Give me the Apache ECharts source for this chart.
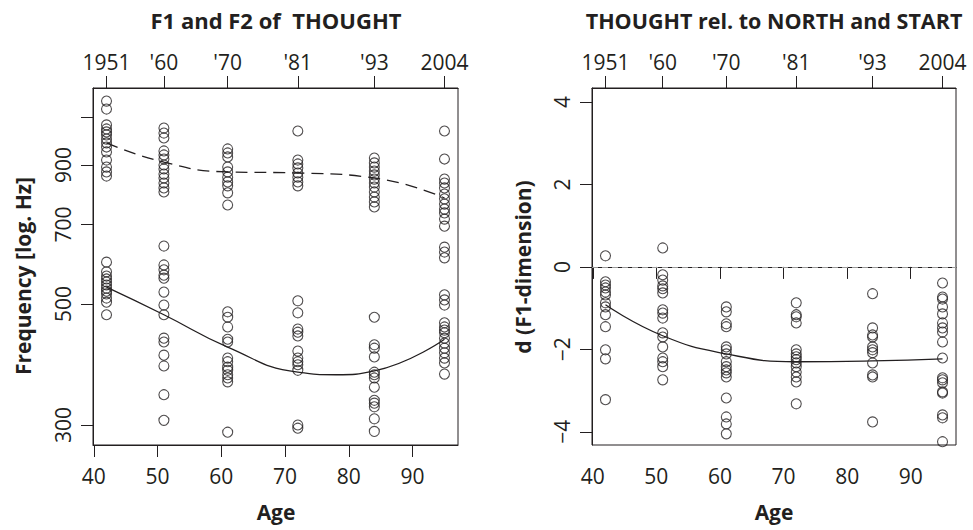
<!DOCTYPE html>
<html><head><meta charset="utf-8">
<script src="https://cdn.jsdelivr.net/npm/echarts@6/dist/echarts.min.js"></script>
<style>html,body{margin:0;padding:0;background:#fff}#c{width:973px;height:530px}</style>
</head><body><div id="c"></div>
<script>
const ages = [42, 51, 61, 72, 84, 95];
const yearLabels = ['1951', "'60", "'70", "'81", "'93", '2004'];
const ageTicks = [40, 50, 60, 70, 80, 90];
const freqTicks = [300, 500, 700, 900, 1100];
const freqLabels = [300, 500, 700, 900];
const dTicks = [-4, -2, 0, 2, 4];

// F2 (Hz) per age group
const f2ByAge = [
  [1179, 1140, 1066, 1048, 1035, 1022, 1004, 988, 971, 951, 919, 892, 874, 859],
  [1052, 1030, 1009, 955, 939, 923, 900, 885, 866, 852, 834, 817, 803],
  [963, 947, 931, 892, 874, 855, 838, 824, 800, 760],
  [1039, 919, 904, 889, 870, 855, 838, 824],
  [927, 908, 892, 877, 863, 848, 834, 820, 803, 786, 770, 754],
  [1039, 923, 848, 834, 817, 796, 780, 763, 747, 735, 716, 695]
];
// F1 (Hz) per age group
const f1ByAge = [
  [597, 573, 563, 556, 549, 542, 535, 528, 522, 513, 504, 478],
  [639, 590, 578, 565, 558, 526, 498, 478, 433, 426, 403, 385, 341, 306],
  [484, 473, 454, 431, 426, 398, 392, 383, 378, 371, 366, 360, 291],
  [507, 482, 450, 444, 437, 410, 398, 392, 387, 378, 300, 296],
  [473, 421, 415, 400, 375, 371, 366, 352, 333, 329, 324, 308, 292],
  [636, 623, 608, 520, 509, 498, 462, 454, 448, 443, 433, 424, 415, 407, 398, 390, 372]
];
// d (F1-dimension) per age group
const dByAge = [
  [0.27, -0.36, -0.44, -0.51, -0.61, -0.68, -0.87, -0.97, -1.16, -1.45, -2.01, -2.23, -3.22],
  [0.46, -0.19, -0.32, -0.46, -0.53, -0.63, -1.04, -1.12, -1.24, -1.6, -1.7, -1.94, -2.21, -2.3, -2.42, -2.74],
  [-0.97, -1.09, -1.38, -1.45, -1.94, -2.01, -2.11, -2.3, -2.42, -2.5, -2.57, -2.67, -3.18, -3.64, -3.81, -4.05],
  [-0.87, -1.16, -1.21, -1.36, -2.01, -2.11, -2.18, -2.25, -2.33, -2.42, -2.55, -2.67, -2.79, -3.32],
  [-0.65, -1.48, -1.65, -1.7, -1.94, -2.01, -2.08, -2.33, -2.62, -2.67, -3.76],
  [-0.39, -0.73, -0.78, -0.97, -1.14, -1.36, -1.48, -1.58, -1.82, -2.21, -2.69, -2.74, -2.81, -3.03, -3.06, -3.59, -3.66, -4.24]
];
// fitted curves
const f1FitAges = [42, 51, 61, 72, 78, 84, 95];
const f1Fit = [537, 478, 417, 375, 371, 377, 431];
const f2FitAges = [42, 51, 61, 72, 84, 95];
const f2Fit = [988, 911, 874, 870, 852, 783];
const dFitAges = [42, 51, 61, 72, 84, 95];
const dFit = [-0.92, -1.67, -2.11, -2.30, -2.28, -2.23];

const INK = '#231f20';
const FONT = '"Open Sans", "Noto Sans", sans-serif';
const FS = 21;
const ln = Math.log;

function pts(groups, tf) {
  const out = [];
  groups.forEach((g, i) => g.forEach(v => out.push([ages[i], tf ? tf(v) : v])));
  return out;
}
function fitPts(xs, ys, tf) { return xs.map((x, i) => [x, tf ? tf(ys[i]) : ys[i]]); }

const xMin = 39.88, xMax = 97.12;
function xAxes(gi) {
  const common = {
    gridIndex: gi, type: 'value', min: xMin, max: xMax,
    axisLine: { show: true, lineStyle: { color: INK, width: 1 } },
    splitLine: { show: false }
  };
  return [
    Object.assign({}, common, {
      position: 'bottom',
      axisTick: { show: true, length: 12, customValues: ageTicks, lineStyle: { color: INK, width: 1 } },
      axisLabel: { customValues: ageTicks, margin: 20, fontSize: FS, fontFamily: FONT, color: INK }
    }),
    Object.assign({}, common, {
      position: 'top',
      axisTick: { show: true, length: 12, customValues: ages, lineStyle: { color: INK, width: 1 } },
      axisLabel: { customValues: ages, margin: 16, fontSize: FS, fontFamily: FONT, color: INK,
        formatter: v => yearLabels[ages.indexOf(Math.round(v))] }
    })
  ];
}

const scatterStyle = {
  type: 'scatter', symbol: 'circle', symbolSize: 10,
  itemStyle: { color: 'rgba(0,0,0,0)', borderColor: INK, borderWidth: 1.1 },
  emphasis: { disabled: true }, silent: true
};
const lineStyleBase = {
  type: 'line', smooth: 0.5, showSymbol: false, symbol: 'none', silent: true
};

const option = {
  animation: false,
  backgroundColor: '#fff',
  grid: [
    { left: 93, top: 88, width: 365, height: 357, show: true, borderColor: INK, borderWidth: 1, backgroundColor: 'transparent' },
    { left: 592, top: 88, width: 364, height: 357, show: true, borderColor: INK, borderWidth: 1, backgroundColor: 'transparent' }
  ],
  xAxis: [].concat(xAxes(0), xAxes(1)),
  yAxis: [
    {
      gridIndex: 0, type: 'value', min: ln(275.7), max: ln(1246),
      axisLine: { show: true, lineStyle: { color: INK, width: 1 } },
      splitLine: { show: false },
      axisTick: { show: true, length: 12, customValues: freqTicks.map(ln), lineStyle: { color: INK, width: 1 } },
      axisLabel: { customValues: freqLabels.map(ln), rotate: 90, margin: 20, fontSize: FS, fontFamily: FONT, color: INK,
        formatter: v => String(Math.round(Math.exp(v))) }
    },
    {
      gridIndex: 1, type: 'value', min: -4.32, max: 4.34,
      axisLine: { show: true, lineStyle: { color: INK, width: 1 } },
      splitLine: { show: false },
      axisTick: { show: true, length: 12, customValues: dTicks, lineStyle: { color: INK, width: 1 } },
      axisLabel: { customValues: dTicks, rotate: 90, margin: 20, fontSize: FS, fontFamily: FONT, color: INK,
        formatter: v => String(v).replace('-', '\u2212') }
    }
  ],
  series: [
    Object.assign({}, scatterStyle, { xAxisIndex: 0, yAxisIndex: 0, data: pts(f2ByAge, ln) }),
    Object.assign({}, scatterStyle, { xAxisIndex: 0, yAxisIndex: 0, data: pts(f1ByAge, ln) }),
    Object.assign({}, lineStyleBase, { xAxisIndex: 0, yAxisIndex: 0, data: fitPts(f2FitAges, f2Fit, ln),
      lineStyle: { color: INK, width: 1.3, type: [12, 7] } }),
    Object.assign({}, lineStyleBase, { xAxisIndex: 0, yAxisIndex: 0, data: fitPts(f1FitAges, f1Fit, ln),
      lineStyle: { color: INK, width: 1.3 } }),
    Object.assign({}, scatterStyle, { xAxisIndex: 2, yAxisIndex: 1, data: pts(dByAge),
      markLine: { silent: true, symbol: 'none', label: { show: false },
        lineStyle: { color: '#999999', width: 1.2, type: [6, 4] },
        data: [{ yAxis: 0 }] } }),
    Object.assign({}, lineStyleBase, { xAxisIndex: 2, yAxisIndex: 1, data: fitPts(dFitAges, dFit),
      lineStyle: { color: INK, width: 1.3 } })
  ],
  graphic: [
    { type: 'text', x: 276, y: 20, style: { text: 'F1 and F2 of  THOUGHT', font: 'bold 22px ' + FONT, fill: INK, align: 'center', verticalAlign: 'middle' } },
    { type: 'text', x: 774, y: 20, style: { text: 'THOUGHT rel. to NORTH and START', font: 'bold 21.5px ' + FONT, fill: INK, align: 'center', verticalAlign: 'middle' } },
    { type: 'text', x: 276, y: 512, style: { text: 'Age', font: 'bold 21px ' + FONT, fill: INK, align: 'center', verticalAlign: 'middle' } },
    { type: 'text', x: 774, y: 512, style: { text: 'Age', font: 'bold 21px ' + FONT, fill: INK, align: 'center', verticalAlign: 'middle' } },
    { type: 'text', x: 23, y: 276, rotation: Math.PI / 2, style: { text: 'Frequency [log. Hz]', font: 'bold 21px ' + FONT, fill: INK, align: 'center', verticalAlign: 'middle' } },
    { type: 'text', x: 523, y: 267, rotation: Math.PI / 2, style: { text: 'd (F1-dimension)', font: 'bold 21px ' + FONT, fill: INK, align: 'center', verticalAlign: 'middle' } }
  ]
};

const chart = echarts.init(document.getElementById('c'), null, { renderer: 'svg' });
chart.setOption(option);
</script>
</body></html>
